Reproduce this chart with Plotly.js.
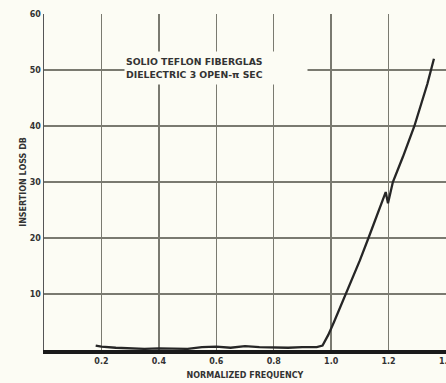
<!DOCTYPE html>
<html>
<head>
<meta charset="utf-8">
<script src="https://cdn.plot.ly/plotly-3.0.1.min.js"></script>
<style>html,body{margin:0;padding:0;background:#fcfcf4;}#chart{width:446px;height:383px;}</style>
</head>
<body>
<div id="chart"></div>
<script>
// Normalized frequency and insertion loss (dB)
var freq = [0.18, 0.2, 0.25, 0.3, 0.35, 0.4, 0.45, 0.5, 0.55, 0.6, 0.65, 0.7, 0.75, 0.8, 0.85, 0.9, 0.95, 0.97, 0.99, 1.01, 1.05, 1.1, 1.13, 1.16, 1.19, 1.198, 1.215, 1.25, 1.29, 1.335, 1.34, 1.348, 1.358];
var lossDb = [0.8, 0.6, 0.4, 0.3, 0.2, 0.3, 0.2, 0.2, 0.5, 0.6, 0.4, 0.7, 0.5, 0.4, 0.4, 0.5, 0.5, 0.8, 2.7, 5, 9.8, 16, 20, 24, 28.2, 26.2, 30, 34.5, 40, 47.5, 48.6, 50, 52];
var xTickVals = [0.2, 0.4, 0.6, 0.8, 1.0, 1.2, 1.4];
var xTickText = ["0.2", "0.4", "0.6", "0.8", "1.0", "1.2", "1.4"];
var yTickVals = [10, 20, 30, 40, 50, 60];
var yTickText = ["10", "20", "30", "40", "50", "60"];
var noteText = "SOLIO TEFLON FIBERGLAS<br>DIELECTRIC 3 OPEN-π SEC";

var tickFont = {family: "DejaVu Sans", size: 8, color: "#333", weight: "bold"};

Plotly.newPlot("chart", [{
  x: freq, y: lossDb, type: "scatter", mode: "lines",
  line: {color: "#262626", width: 2.3}, hoverinfo: "skip"
}], {
  width: 446, height: 383,
  margin: {l: 44, r: 0, t: 14, b: 33},
  paper_bgcolor: "#fcfcf4", plot_bgcolor: "#fcfcf4",
  showlegend: false,
  xaxis: {
    range: [0, 1.4], tickvals: xTickVals, ticktext: xTickText,
    showgrid: true, gridcolor: "#7a7a70", gridwidth: 1.5,
    showline: true, linecolor: "#1a1a1a", linewidth: 4,
    zeroline: false, ticks: "", tickfont: tickFont, ticklabeloverflow: "allow",
    title: {text: "NORMALIZED FREQUENCY", font: {family: "DejaVu Sans", size: 8, color: "#333", weight: "bold"}, standoff: 9}
  },
  yaxis: {
    range: [0, 60], tickvals: yTickVals, ticktext: yTickText,
    showgrid: true, gridcolor: "#7a7a70", gridwidth: 1.5,
    showline: true, linecolor: "#555", linewidth: 1.5,
    zeroline: false, ticks: "", tickfont: tickFont,
    title: {text: "INSERTION LOSS DB", font: {family: "DejaVu Sans", size: 8, color: "#333", weight: "bold"}, standoff: 2}
  },
  annotations: [{
    x: 0.6, y: 50.3, xref: "x", yref: "y", text: noteText, showarrow: false,
    align: "left", width: 180, height: 30, bgcolor: "#fcfcf4",
    font: {family: "DejaVu Sans", size: 9.3, color: "#333", weight: "bold"}
  }]
}, {displayModeBar: false, staticPlot: true});
</script>
</body>
</html>
